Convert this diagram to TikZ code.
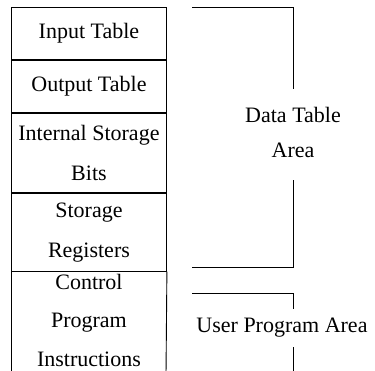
\documentclass[tikz,border=0pt]{standalone}
\usepackage{fontspec}
\setmainfont{Liberation Serif}
\usetikzlibrary{positioning}

\begin{document}
\begin{tikzpicture}[x=1pt, y=-1pt, line width=0.9pt]
		\tikzstyle{cell}=[draw=black, minimum width=155pt, inner sep=0pt, align=center, font=\fontsize{22}{40}\selectfont]
		\tikzstyle{area}=[align=center, font=\fontsize{22}{35}\selectfont]
		\useasboundingbox (0,0) rectangle (375,371);
		\node[cell, minimum height=52pt, anchor=north west] (inp) at (11,7) {Input Table};
		\node[cell, minimum height=52pt, below=0pt of inp] (outp) {Output Table};
		\node[cell, minimum height=79pt, below=0pt of outp] (bits) {Internal Storage\\Bits};
		\node[cell, minimum height=78pt, below=0pt of bits] (regs) {Storage\\Registers};
		\node[cell, draw=none, font=\fontsize{22}{38.5}\selectfont, below=2pt of regs] (prog) {Control\\Program\\Instructions};
		\coordinate (lbot) at (11,375);
		\coordinate (rbot) at (166,375);
		\draw (regs.south west) -- (lbot);
		\draw (regs.south east) -- (rbot);
		% data table area
		\node[area, inner ysep=14pt] (dta) at (293,132) {Data Table\\Area};
		\coordinate (dt1) at (192,7);
		\coordinate (dt2) at (192,267);
		\draw[shorten >=3pt] (dt1) -| (dta.north);
		\draw[shorten >=8pt] (dt2) -| (dta.south);
		% user program area
		\node[area, inner ysep=9pt] (upa) at (282,328) {User Program Area};
		\coordinate (up1) at (192,293);
		\coordinate (ubot) at (293,375);
		\draw (up1) -| (upa.north -| dta);
		\draw (upa.south -| ubot) -- (ubot);
\end{tikzpicture}
\end{document}
